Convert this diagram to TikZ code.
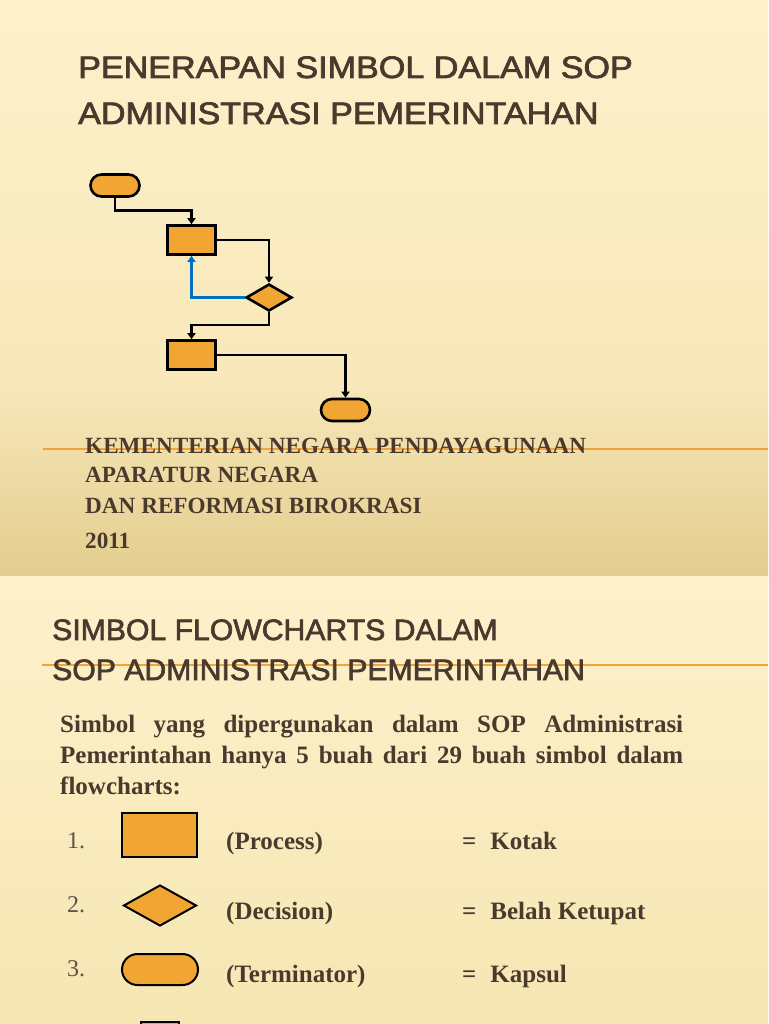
\documentclass[tikz,border=0pt]{standalone}
\usepackage{fontspec}
\usepackage{graphicx}
\usetikzlibrary{shapes.geometric,arrows.meta}
\setmainfont{Liberation Serif}
\newfontfamily\titlefont[FakeBold=2.2]{Liberation Sans}

\definecolor{symorange}{HTML}{F1A532}
\definecolor{textbrown}{HTML}{4A3A2E}
\definecolor{numgrey}{HTML}{5E5248}
\definecolor{loopblue}{HTML}{0070C0}
\definecolor{ruleorange}{HTML}{F2A33A}
\definecolor{creamtop}{HTML}{FDF1CB}
\definecolor{creammid}{HTML}{F8E8BA}
\definecolor{tanlow}{HTML}{E3CD8E}
\definecolor{creamlow}{HTML}{F6E6B3}

\tikzset{
  procbox/.style={draw=black, fill=symorange, line width=2.6pt, minimum width=48pt, minimum height=29pt, inner sep=0pt},
  termbox/.style={draw=black, fill=symorange, line width=2.6pt, rounded corners=11pt, minimum width=49pt, minimum height=22pt, inner sep=0pt},
  decbox/.style={diamond, draw=black, fill=symorange, line width=2.6pt, minimum width=46pt, minimum height=27pt, inner sep=0pt},
  flow/.style={line width=2.6pt, -{Triangle[width=8pt,length=6pt]}},
  titletext/.style={anchor=base west, inner sep=0pt, text=textbrown, font=\titlefont\fontsize{31}{36}\selectfont},
  headtext/.style={anchor=base west, inner sep=0pt, text=textbrown, font=\fontsize{23.2}{27}\selectfont\bfseries},
  bodytext/.style={anchor=base west, inner sep=0pt, text=textbrown, font=\fontsize{25}{30}\selectfont\bfseries},
  numtext/.style={anchor=base west, inner sep=0pt, text=numgrey, font=\fontsize{24}{28}\selectfont},
}

\begin{document}
\begin{tikzpicture}[x=1pt, y=-1pt]
  \useasboundingbox (0,0) rectangle (768,1024);

    % Slide backgrounds
  \shade[top color=creamtop, bottom color=creammid] (0,0) rectangle (768,380);
  \shade[top color=creammid, bottom color=tanlow] (0,380) rectangle (768,576);
  \shade[top color=creamtop, bottom color=creamlow] (0,576) rectangle (768,1024);

    % Orange rules
  \draw[ruleorange, line width=1.5pt] (43,449) -- (768,449);
  \draw[ruleorange, line width=1.5pt] (42,665) -- (768,665);

    % Title of first slide
  \node[titletext] (title1a) at (78,78) {\scalebox{1.1}[1]{PENERAPAN SIMBOL DALAM SOP}};
  \node[titletext] (title1b) at (78,124) {\scalebox{1.1}[1]{ADMINISTRASI PEMERINTAHAN}};

    % Small flowchart
  \node[termbox] (start) at (115,185.5) {};
  \node[procbox] (proc1) at (191.5,240) {};
  \node[decbox] (check) at (269,297.5) {};
  \node[procbox] (proc2) at (191.5,355) {};
  \node[termbox] (finish) at (345.5,410) {};

  \draw[flow] (start.south) -- ++(0,13) -| (proc1.north);
  \draw[flow] (proc1.east) -| (check.north);
  \draw[flow, loopblue] (check.west) -| (proc1.south);
  \draw[flow] (check.south) -- ++(0,12.5) -| (proc2.north);
  \draw[flow] (proc2.east) -| (finish.north);

    % Publisher lines
  \node[headtext] (pub1) at (85,453) {KEMENTERIAN NEGARA PENDAYAGUNAAN};
  \node[headtext] (pub2) at (85,482) {APARATUR NEGARA};
  \node[headtext] (pub3) at (85,513) {DAN REFORMASI BIROKRASI};
  \node[headtext] (pub4) at (85,548) {2011};

    % Title of second slide
  \node[titletext, font=\titlefont\fontsize{29.5}{34}\selectfont] (title2a) at (52,640) {\scalebox{1.023}[1]{SIMBOL FLOWCHARTS DALAM}};
  \node[titletext, font=\titlefont\fontsize{29.5}{34}\selectfont] (title2b) at (52,680) {\scalebox{1.023}[1]{SOP ADMINISTRASI PEMERINTAHAN}};

    % Intro text
  \node[bodytext] (intro1) at (60,732) {\makebox[623pt][s]{Simbol yang dipergunakan dalam SOP Administrasi}};
  \node[bodytext] (intro2) at (60,763) {\makebox[623pt][s]{Pemerintahan hanya 5 buah dari 29 buah simbol dalam}};
  \node[bodytext] (intro3) at (60,794) {flowcharts:};

    % Symbol list
  \node[numtext] (num1) at (67,848) {1.};
  \node[numtext] (num2) at (67,912) {2.};
  \node[numtext] (num3) at (67,976) {3.};

  \node[procbox, line width=2pt, minimum width=75pt, minimum height=44pt] (legproc) at (159.5,835) {};
  \node[decbox, line width=2pt, minimum width=73pt, minimum height=41pt] (legdec) at (160,905.5) {};
  \node[termbox, line width=2pt, rounded corners=15.5pt, minimum width=76pt, minimum height=31pt] (legterm) at (160,969.5) {};
  \node[procbox, line width=2pt, minimum width=38pt, minimum height=30pt, anchor=north] (legnext) at (160,1021) {};

  \node[bodytext] (lblproc) at (226,849) {(Process)};
  \node[bodytext] (lbldec) at (226,919) {(Decision)};
  \node[bodytext] (lblterm) at (226,982) {(Terminator)};

  \node[bodytext] (nameproc) at (462,849) {=\hspace{14pt}Kotak};
  \node[bodytext] (namedec) at (462,919) {=\hspace{14pt}Belah Ketupat};
  \node[bodytext] (nameterm) at (462,982) {=\hspace{14pt}Kapsul};
\end{tikzpicture}
\end{document}
